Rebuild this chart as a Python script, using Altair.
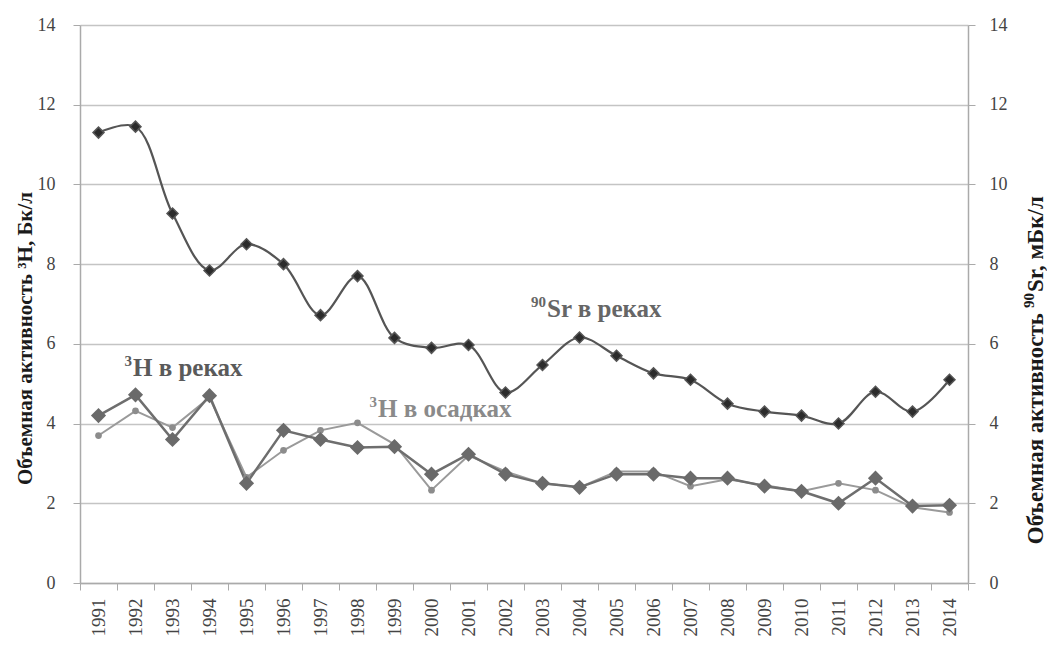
import altair as alt
import pandas as pd

# Years of observation
years = [str(y) for y in range(1991, 2015)]

# 90Sr in rivers, mBq/l (right axis)
sr_rivers = [11.3, 11.45, 9.27, 7.84, 8.5, 8.0, 6.72, 7.7, 6.15, 5.9, 5.97, 4.78,
             5.47, 6.16, 5.7, 5.26, 5.1, 4.5, 4.3, 4.2, 4.0, 4.8, 4.3, 5.1]

# 3H in rivers, Bq/l (left axis)
h_rivers = [4.2, 4.72, 3.6, 4.7, 2.5, 3.83, 3.6, 3.4, 3.42, 2.73, 3.23, 2.73,
            2.5, 2.4, 2.73, 2.73, 2.63, 2.63, 2.43, 2.3, 2.0, 2.63, 1.93, 1.95]

# 3H in precipitation, Bq/l (left axis)
h_precip = [3.7, 4.32, 3.9, 4.65, 2.65, 3.33, 3.83, 4.02, 3.48, 2.33, 3.2, 2.8,
            2.5, 2.4, 2.8, 2.8, 2.43, 2.6, 2.45, 2.3, 2.5, 2.33, 1.9, 1.77]

# Curve labels: superscript part, main part, anchor year/value, offset, colour
label_sup = ["90", "3", "3"]
label_main = ["Sr в реках", "H в реках", "H в осадках"]
label_year = ["2003", "1992", "1999"]
label_value = [6.67, 5.2, 4.165]
label_dx = [4.5, -2.5, -16.5]
label_color = ["#666666", "#5a5a5a", "#8a8a8a"]

y_ticks = [0, 2, 4, 6, 8, 10, 12, 14]
SERIF = "'Liberation Serif', 'Times New Roman', Tinos, serif"
AXIS_GREY = "#aaaaaa"
LABEL_GREY = "#444444"
TITLE_INK = "#1a1a1a"

sr_df = pd.DataFrame({"year": years, "value": sr_rivers})
hr_df = pd.DataFrame({"year": years, "value": h_rivers})
hp_df = pd.DataFrame({"year": years, "value": h_precip})

x_enc = alt.X("year:N", sort=years, scale=alt.Scale(paddingInner=0, paddingOuter=0),
              axis=alt.Axis(title=None, labelAngle=270, labelFont=SERIF, labelFontSize=19,
                            labelColor=LABEL_GREY, labelPadding=8, tickBand="extent",
                            tickSize=7, tickColor=AXIS_GREY, domainColor=AXIS_GREY,
                            domainWidth=1.5, grid=False))

y_scale = alt.Scale(domain=[0, 14], nice=False)

left_axis = alt.Axis(values=y_ticks, title="Объемная активность ³Н, Бк/л",
                     titleFont=SERIF, titleFontSize=21, titleFontWeight="bold",
                     titleColor=TITLE_INK, titleX=-49, titleY=313, titleAngle=270,
                     titleAlign="center", titleBaseline="alphabetic",
                     labelFont=SERIF, labelFontSize=18, labelColor=LABEL_GREY,
                     labelPadding=18, tickSize=7, tickColor=AXIS_GREY,
                     domainColor=AXIS_GREY, domainWidth=1.5,
                     grid=True, gridColor="#c4c4c4", gridWidth=1.5)

right_axis = alt.Axis(values=y_ticks, orient="right", title=None,
                      labelFont=SERIF, labelFontSize=18, labelColor=LABEL_GREY,
                      labelPadding=14, tickSize=7, tickColor=AXIS_GREY,
                      domainColor=AXIS_GREY, domainWidth=1.5, grid=False)

y_left = alt.Y("value:Q", scale=y_scale, axis=left_axis)
y_plain = alt.Y("value:Q", scale=y_scale)
y_right = alt.Y("value:Q", scale=y_scale, axis=right_axis)

# Tritium in precipitation: light line with small dots
hp_line = alt.Chart(hp_df).mark_line(color="#9a9a9a", strokeWidth=2).encode(x=x_enc, y=y_left)
hp_pts = alt.Chart(hp_df).mark_point(shape="circle", filled=True, size=45,
                                     color="#8c8c8c", opacity=1).encode(x=x_enc, y=y_plain)

# Tritium in rivers: grey line with large diamonds
hr_line = alt.Chart(hr_df).mark_line(color="#6e6e6e", strokeWidth=2.5).encode(x=x_enc, y=y_plain)
hr_pts = alt.Chart(hr_df).mark_point(shape="diamond", filled=True, size=230,
                                     color="#6a6a6a", opacity=1).encode(x=x_enc, y=y_plain)

# Curve labels: superscript mass number right-aligned, element name left-aligned
label_layers = []
for i in range(len(label_main)):
    row = pd.DataFrame({"year": [label_year[i]], "value": [label_value[i]],
                        "sup": [label_sup[i]], "main": [label_main[i]]})
    label_layers.append(
        alt.Chart(row).mark_text(font=SERIF, fontSize=15, fontWeight="bold",
                                 align="right", baseline="alphabetic",
                                 dx=label_dx[i] - 1, dy=-10, color=label_color[i]).encode(
            x=x_enc, y=y_plain, text="sup:N"))
    label_layers.append(
        alt.Chart(row).mark_text(font=SERIF, fontSize=25, fontWeight="bold",
                                 align="left", baseline="alphabetic",
                                 dx=label_dx[i], color=label_color[i]).encode(
            x=x_enc, y=y_plain, text="main:N"))

left = alt.layer(hp_line, hr_line, hp_pts, hr_pts, *label_layers)

# Strontium-90 in rivers: smoothed dark line with small black diamonds
sr_line = alt.Chart(sr_df).mark_line(color="#555555", strokeWidth=2.2,
                                     interpolate="catmull-rom").encode(x=x_enc, y=y_right)
sr_pts = alt.Chart(sr_df).mark_point(shape="diamond", filled=True, size=120,
                                     fill="#2b2b2b", stroke="#555555", strokeWidth=1.5,
                                     opacity=1).encode(x=x_enc, y=y_right)

# Right axis title, set in three pieces so the mass number is a true superscript;
# the anchor sits between "активность" and "90", in plot-area pixels
title_df = pd.DataFrame({"a": ["Объемная активность"], "b": ["90"], "c": ["Sr, мБк/л"]})
t_x, t_y = alt.value(963), alt.value(283)
title_a = alt.Chart(title_df).mark_text(font=SERIF, fontSize=23, fontWeight="bold",
                                        angle=270, align="right", baseline="alphabetic",
                                        dx=-5, color=TITLE_INK).encode(x=t_x, y=t_y, text="a:N")
title_b = alt.Chart(title_df).mark_text(font=SERIF, fontSize=15, fontWeight="bold",
                                        angle=270, align="left", baseline="alphabetic",
                                        dy=-9, color=TITLE_INK).encode(x=t_x, y=t_y, text="b:N")
title_c = alt.Chart(title_df).mark_text(font=SERIF, fontSize=23, fontWeight="bold",
                                        angle=270, align="left", baseline="alphabetic",
                                        dx=16, color=TITLE_INK).encode(x=t_x, y=t_y, text="c:N")

right = alt.layer(sr_line, sr_pts, title_a, title_b, title_c)

chart = alt.layer(left, right).resolve_scale(y="independent").properties(
    width=888, height=558,
    autosize=alt.AutoSizeParams(type="none"),
    padding={"left": 80, "top": 25, "right": 79, "bottom": 63},
    background="white",
).configure_view(strokeWidth=0)

chart.save("out.html", embed_options={"renderer": "svg", "actions": False})
